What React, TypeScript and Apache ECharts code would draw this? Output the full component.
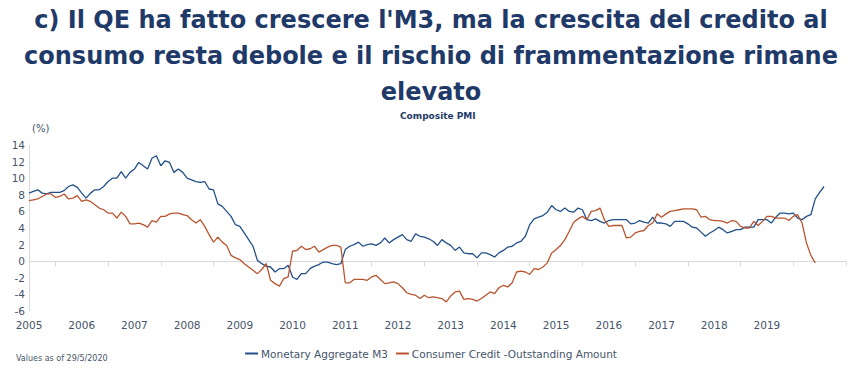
import React, { useEffect, useRef } from "react";
import * as echarts from "echarts";

// Monthly observations, first point = July 2005
const startYear = 2005;
const startMonth = 7;
const axisLength = 187; // axis runs to January 2021

const m3: number[] = [
  8.2, 8.4, 8.6, 8.2, 8.1, 8.3, 8.3, 8.3, 8.5, 9.0, 9.2, 8.9,
  8.2, 7.6, 8.2, 8.6, 8.6, 9.0, 9.6, 10.0, 10.0, 10.8, 10.0, 10.7,
  11.1, 11.9, 11.5, 11.1, 12.4, 12.7, 11.5, 12.1, 11.9, 10.7, 11.1, 10.7,
  10.0, 9.8, 9.6, 9.5, 9.6, 8.7, 8.6, 6.9, 6.6, 6.0, 5.4, 4.4,
  4.2, 3.4, 2.6, 1.8, 0.1, -0.3, -0.6, -0.7, -1.3, -0.9, -0.9, -0.5,
  -1.9, -2.2, -1.5, -1.5, -0.9, -0.6, -0.4, -0.1, -0.1, -0.3, -0.4, -0.3,
  1.4, 1.8, 2.0, 2.3, 1.8, 2.0, 2.1, 1.9, 2.2, 2.8, 2.2, 2.6,
  2.9, 3.2, 2.6, 2.4, 3.3, 3.0, 2.9, 2.7, 2.4, 1.9, 2.6, 2.2,
  1.9, 1.3, 1.7, 1.0, 0.9, 0.9, 0.4, 1.0, 1.0, 0.8, 0.5, 1.0,
  1.3, 1.7, 1.8, 2.2, 2.4, 3.0, 4.4, 5.1, 5.3, 5.5, 5.9, 6.7,
  6.2, 6.0, 6.4, 6.0, 5.9, 6.4, 6.2, 5.0, 4.9, 5.1, 4.8, 4.6,
  4.9, 5.0, 5.0, 5.0, 5.0, 4.5, 4.6, 4.9, 4.7, 4.6, 5.3, 4.6,
  4.6, 4.5, 4.2, 4.8, 4.8, 4.8, 4.5, 4.1, 4.0, 3.5, 3.0, 3.4,
  3.7, 4.1, 3.8, 3.4, 3.6, 3.8, 3.8, 4.1, 4.1, 4.1, 5.0, 5.0,
  5.0, 4.6, 5.3, 5.8, 5.8, 5.7, 5.8, 5.2, 5.0, 5.4, 5.6, 7.5,
  8.3, 9.0,
];

const consumerCredit: number[] = [
  7.3, 7.4, 7.5, 7.8, 8.1, 8.1, 7.7, 7.8, 8.1, 7.5, 7.6, 7.9,
  7.2, 7.4, 7.2, 6.8, 6.4, 6.2, 5.8, 5.8, 5.2, 5.9, 5.4, 4.5,
  4.5, 4.6, 4.4, 4.1, 4.9, 4.7, 5.4, 5.4, 5.7, 5.8, 5.8, 5.6,
  5.5, 5.0, 4.6, 5.0, 4.2, 3.2, 2.3, 2.9, 2.3, 1.9, 0.7, 0.4,
  0.2, -0.3, -0.7, -1.1, -1.5, -1.0, -0.3, -2.3, -2.7, -3.0, -2.1, -1.9,
  1.2, 1.3, 1.8, 1.4, 1.5, 1.8, 1.1, 1.4, 1.7, 1.9, 1.9, 1.7,
  -2.6, -2.6, -2.2, -2.2, -2.2, -2.3, -1.9, -1.7, -2.2, -2.7, -2.6, -2.5,
  -2.7, -3.2, -3.8, -4.0, -4.1, -4.5, -4.1, -4.4, -4.3, -4.4, -4.5, -4.9,
  -4.2, -3.7, -3.6, -4.6, -4.5, -4.6, -4.8, -4.5, -4.1, -3.7, -3.9, -3.2,
  -2.9, -3.1, -2.6, -1.3, -1.2, -1.3, -1.6, -0.9, -1.0, -0.7, -0.2, 1.0,
  1.4, 1.9, 2.6, 3.6, 4.7, 5.1, 5.4, 5.0, 6.0, 6.1, 6.4, 5.0,
  4.2, 4.3, 4.3, 4.3, 2.8, 2.9, 3.4, 3.6, 3.7, 4.3, 4.6, 5.7,
  5.3, 5.7, 6.0, 6.1, 6.2, 6.3, 6.3, 6.3, 6.2, 5.3, 5.4, 5.0,
  4.9, 4.9, 4.8, 4.6, 4.9, 4.8, 4.2, 4.0, 4.0, 4.8, 4.3, 4.8,
  5.4, 5.4, 5.2, 5.2, 5.2, 4.9, 5.4, 5.6, 4.6, 2.2, 0.7, -0.2,
];

const seriesNames = ["Monetary Aggregate M3", "Consumer Credit -Outstanding Amount"];
const titleText =
  "c) Il QE ha fatto crescere l'M3, ma la crescita del credito al\nconsumo resta debole e il rischio di frammentazione rimane\nelevato";
const subtitleText = "Composite PMI";
const unitText = "(%)";
const noteText = "Values as of 29/5/2020";
const yMin = -6;
const yMax = 14;
const yInterval = 2;

const months: string[] = [];
for (let i = 0; i < axisLength; i++) {
  const total = startMonth - 1 + i;
  const y = startYear + Math.floor(total / 12);
  const m = (total % 12) + 1;
  months.push(`${y}-${m < 10 ? "0" + m : m}`);
}

const NAVY = "#1f3a68";
const LABEL = "#44546a";
const BLUE = "#23508a";
const ORANGE = "#b8552f";
const FONT = "DejaVu Sans";

export default function App() {
  const ref = useRef<HTMLDivElement>(null);
  useEffect(() => {
    if (!ref.current) return;
    const chart = echarts.init(ref.current, null, { renderer: "svg" });
    chart.setOption({
      animation: false,
      backgroundColor: "#ffffff",
      title: [
        {
          text: titleText,
          left: "center",
          top: 2,
          padding: 0,
          textStyle: {
            fontFamily: FONT,
            fontSize: 24,
            fontWeight: "bold",
            color: NAVY,
            lineHeight: 36,
          },
        },
      ],
      graphic: [
        {
          type: "text",
          left: 400,
          top: 111,
          style: { text: subtitleText, fontFamily: FONT, fontSize: 9, fontWeight: "bold", fill: NAVY },
        },
        {
          type: "text",
          left: 32,
          top: 123,
          style: { text: unitText, fontFamily: FONT, fontSize: 10, fill: LABEL },
        },
        {
          type: "text",
          left: 16,
          top: 354,
          style: { text: noteText, fontFamily: FONT, fontSize: 8, fill: LABEL },
        },
      ],
      legend: {
        data: seriesNames,
        top: 343,
        left: "center",
        icon: "rect",
        itemWidth: 13,
        itemHeight: 2,
        itemGap: 8,
        textStyle: { fontFamily: FONT, fontSize: 10.5, color: LABEL, padding: [0, 0, 0, -2] },
      },
      grid: { left: 29, right: 16, top: 145, bottom: 81, containLabel: false },
      xAxis: {
        type: "category",
        data: months,
        boundaryGap: false,
        axisLine: { show: true, lineStyle: { color: "#d9d9d9", width: 1 } },
        axisTick: {
          show: true,
          length: 5,
          interval: (index: number) => index % 12 === 6,
          lineStyle: { color: "#d9d9d9" },
        },
        axisLabel: {
          interval: (index: number) => index % 12 === 0 && index < 180,
          formatter: (v: string) => v.slice(0, 4),
          fontFamily: FONT,
          fontSize: 10.5,
          color: LABEL,
          margin: 8,
        },
        splitLine: { show: false },
      },
      yAxis: {
        type: "value",
        min: yMin,
        max: yMax,
        interval: yInterval,
        axisLine: { show: true, lineStyle: { color: "#d9d9d9", width: 1 } },
        axisTick: { show: false },
        splitLine: { show: false },
        axisLabel: { fontFamily: FONT, fontSize: 10.5, color: LABEL, margin: 4 },
      },
      series: [
        {
          name: seriesNames[0],
          type: "line",
          data: m3,
          showSymbol: false,
          symbol: "none",
          lineStyle: { color: BLUE, width: 1.3 },
          itemStyle: { color: BLUE },
        },
        {
          name: seriesNames[1],
          type: "line",
          data: consumerCredit,
          showSymbol: false,
          symbol: "none",
          lineStyle: { color: ORANGE, width: 1.3 },
          itemStyle: { color: ORANGE },
        },
      ],
    });
    return () => chart.dispose();
  }, []);
  return (
    <div
      ref={ref}
      style={{ position: "fixed", left: 0, top: 0, width: 862, height: 392 }}
    />
  );
}
